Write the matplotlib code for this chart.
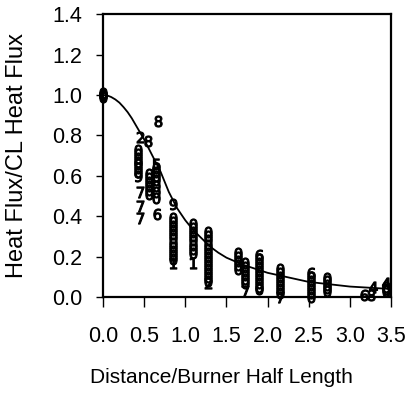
import matplotlib
matplotlib.use('Agg')
import matplotlib.pyplot as plt

plt.rcParams['font.family'] = ['Liberation Sans', 'DejaVu Sans']

# fitted curve
curve_x = [0.0, 0.05, 0.1, 0.15, 0.2, 0.25, 0.3, 0.35, 0.4, 0.5, 0.6, 0.7, 0.8, 0.9, 1.0, 1.1, 1.2,
           1.3, 1.4, 1.5, 1.7, 2.0, 2.5, 3.0, 3.5]
curve_y = [1.0, 0.998, 0.99, 0.978, 0.962, 0.94, 0.915, 0.885, 0.85, 0.78, 0.70, 0.62, 0.52, 0.44,
           0.38, 0.33, 0.29, 0.25, 0.22, 0.195, 0.16, 0.12, 0.075, 0.052, 0.04]

# measured points: (x, y, test number label)
pts_x = [0.0, 0.0, 0.0, 0.0,
         0.43, 0.43, 0.43, 0.43, 0.43, 0.43, 0.43, 0.43, 0.45, 0.45, 0.45, 0.45,
         0.56, 0.56, 0.56, 0.56, 0.56, 0.56, 0.55,
         0.65, 0.65, 0.65, 0.65, 0.65, 0.65, 0.65, 0.65, 0.66, 0.67,
         0.85, 0.85, 0.85, 0.85, 0.85, 0.85, 0.85, 0.85, 0.85, 0.85, 0.85, 0.85, 0.85,
         1.09, 1.09, 1.09, 1.09, 1.09, 1.09, 1.09, 1.09, 1.09,
         1.28, 1.28, 1.28, 1.28, 1.28, 1.28, 1.28, 1.28, 1.28, 1.28, 1.28, 1.28, 1.28, 1.28,
         1.64, 1.64, 1.64, 1.64, 1.64,
         1.72, 1.72, 1.72, 1.72, 1.72, 1.72, 1.72,
         1.90, 1.90, 1.90, 1.90, 1.90, 1.90, 1.90, 1.90, 1.90, 1.90,
         2.15, 2.15, 2.15, 2.15, 2.15, 2.15, 2.15, 2.15,
         2.53, 2.53, 2.53, 2.53, 2.53, 2.53, 2.53,
         2.72, 2.72, 2.72, 2.72, 2.72,
         3.17, 3.25, 3.28,
         3.44, 3.44, 3.44, 3.44]
pts_y = [1.0, 1.01, 0.99, 1.0,
         0.73, 0.71, 0.69, 0.67, 0.66, 0.64, 0.62, 0.60, 0.79, 0.52, 0.45, 0.39,
         0.61, 0.59, 0.57, 0.55, 0.53, 0.51, 0.77,
         0.66, 0.64, 0.62, 0.60, 0.58, 0.55, 0.52, 0.49, 0.41, 0.87,
         0.46, 0.39, 0.37, 0.35, 0.33, 0.31, 0.29, 0.27, 0.25, 0.23, 0.21, 0.19, 0.17,
         0.36, 0.34, 0.32, 0.30, 0.28, 0.26, 0.24, 0.22, 0.17,
         0.32, 0.30, 0.28, 0.26, 0.24, 0.22, 0.20, 0.18, 0.16, 0.14, 0.12, 0.10, 0.08, 0.07,
         0.22, 0.20, 0.18, 0.16, 0.14,
         0.17, 0.15, 0.13, 0.11, 0.09, 0.07, 0.03,
         0.21, 0.19, 0.17, 0.15, 0.13, 0.11, 0.09, 0.07, 0.05, 0.04,
         0.14, 0.12, 0.10, 0.08, 0.06, 0.04, 0.02, 0.0,
         0.12, 0.10, 0.08, 0.06, 0.04, 0.02, 0.0,
         0.095, 0.08, 0.06, 0.045, 0.03,
         0.01, 0.01, 0.05,
         0.07, 0.05, 0.04, 0.03]
pts_lab = ['0', '0', '0', '0',
           '0', '0', '0', '0', '0', '0', '0', '9', '2', '7', '7', '7',
           '0', '0', '0', '0', '0', '0', '8',
           '5', '0', '0', '0', '0', '0', '0', '0', '6', '8',
           '9', '0', '0', '0', '0', '0', '0', '0', '0', '0', '0', '0', '1',
           '0', '0', '0', '0', '0', '0', '0', '0', '1',
           '0', '0', '0', '0', '0', '0', '0', '0', '0', '0', '0', '0', '0', '2',
           '0', '0', '0', '0', '0',
           '0', '0', '0', '0', '0', '0', '7',
           '6', '0', '0', '0', '0', '0', '0', '0', '0', '0',
           '0', '0', '0', '0', '0', '0', '0', '7',
           '6', '0', '0', '0', '0', '0', '0',
           '0', '0', '0', '0', '0',
           '6', '8', '4',
           '4', '0', '0', '0']

fig = plt.figure(figsize=(4.07, 3.94), dpi=100)
ax = fig.add_axes([0.253, 0.246, 0.708, 0.718])

ax.plot(curve_x, curve_y, color='black', lw=1.3, zorder=2)
for x, y, lab in zip(pts_x, pts_y, pts_lab):
    ax.plot(x, y, marker='$' + lab + '$', color='black', ms=8, mew=0.8, ls='none',
            clip_on=False, zorder=3)

ax.set_xlim(0, 3.5)
ax.set_ylim(0, 1.4)
ax.set_xticks([0.0, 0.5, 1.0, 1.5, 2.0, 2.5, 3.0, 3.5])
ax.set_yticks([0.0, 0.2, 0.4, 0.6, 0.8, 1.0, 1.2, 1.4])
ax.set_xticklabels(['%.1f' % v for v in ax.get_xticks()])
ax.set_yticklabels(['%.1f' % v for v in ax.get_yticks()])
ax.tick_params(axis='x', direction='out', length=7, width=1, labelsize=15.5, pad=14, color='black')
ax.tick_params(axis='y', direction='out', length=5, width=1, labelsize=15.5, pad=10, color='black')
for s in ax.spines.values():
    s.set_linewidth(1.6)

ax.set_xlabel('Distance/Burner Half Length', fontsize=15)
ax.set_ylabel('Heat Flux/CL Heat Flux', fontsize=17)
ax.xaxis.set_label_coords(0.41, -0.25)
ax.yaxis.set_label_coords(-0.26, 0.5)

fig.savefig('out.png', dpi=100)
